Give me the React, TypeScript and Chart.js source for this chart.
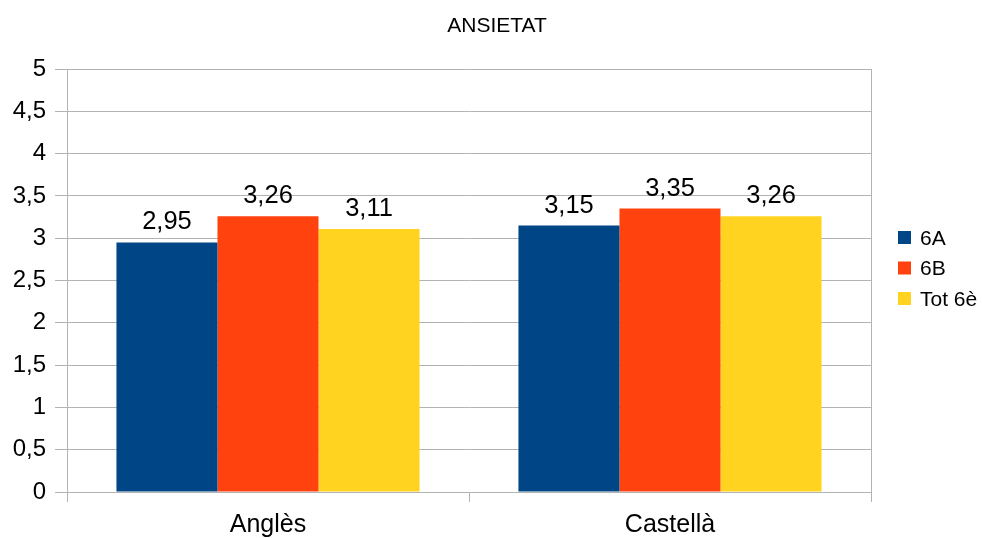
import React, { useEffect, useRef } from "react";
import { Chart, registerables } from "chart.js";

Chart.register(...registerables);

const title = "ANSIETAT";
const categories = ["Anglès", "Castellà"];
const seriesNames = ["6A", "6B", "Tot 6è"];
const values6A = [2.95, 3.15];
const values6B = [3.26, 3.35];
const valuesTot = [3.11, 3.26];
const seriesColors = ["#004586", "#ff420e", "#ffd320"];
const yTicks = [0, 0.5, 1, 1.5, 2, 2.5, 3, 3.5, 4, 4.5, 5];

const FONT = "'Liberation Sans', Arial, sans-serif";
const GRID = "#b3b3b3";

const fmt = (v: number) => String(v).replace(".", ",");

// Title, value labels, right frame line and the legend are drawn here.
const decorations = {
  id: "decorations",
  afterDatasetsDraw(chart: any) {
    const ctx = chart.ctx as CanvasRenderingContext2D;
    const area = chart.chartArea;
    ctx.save();

    // right frame line
    ctx.strokeStyle = GRID;
    ctx.lineWidth = 1;
    ctx.beginPath();
    ctx.moveTo(Math.round(area.right) + 0.5, area.top);
    ctx.lineTo(Math.round(area.right) + 0.5, area.bottom);
    ctx.stroke();

    // value labels
    ctx.fillStyle = "#000";
    ctx.font = `25.5px ${FONT}`;
    ctx.textAlign = "center";
    ctx.textBaseline = "alphabetic";
    chart.data.datasets.forEach((ds: any, i: number) => {
      const meta = chart.getDatasetMeta(i);
      meta.data.forEach((bar: any, j: number) => {
        ctx.fillText(fmt(ds.data[j]), bar.x, bar.y - 13);
      });
    });

    // title
    ctx.font = `21px ${FONT}`;
    ctx.fillText(title, 497, 32);

    // legend
    ctx.textAlign = "left";
    ctx.textBaseline = "middle";
    ctx.font = `21px ${FONT}`;
    chart.data.datasets.forEach((ds: any, i: number) => {
      const cy = 238 + i * 30.5;
      ctx.fillStyle = ds.backgroundColor;
      ctx.fillRect(898, cy - 7, 13, 13);
      ctx.fillStyle = "#000";
      ctx.fillText(ds.label, 920, cy + 1);
    });

    ctx.restore();
  },
};

export default function App() {
  const canvasRef = useRef<HTMLCanvasElement | null>(null);

  useEffect(() => {
    if (!canvasRef.current) return;
    const seriesValues = [values6A, values6B, valuesTot];
    const chart = new Chart(canvasRef.current, {
      type: "bar",
      data: {
        labels: categories,
        datasets: seriesNames.map((name, i) => ({
          label: name,
          data: seriesValues[i],
          backgroundColor: seriesColors[i],
          borderWidth: 0,
          barPercentage: 1,
          categoryPercentage: 0.754,
        })),
      },
      options: {
        animation: false,
        responsive: false,
        maintainAspectRatio: false,
        layout: { padding: { top: 69, right: 111, left: 0, bottom: 0 } },
        plugins: {
          legend: { display: false },
          title: { display: false },
          tooltip: { enabled: false },
        },
        scales: {
          x: {
            offset: true,
            grid: {
              offset: true,
              drawOnChartArea: false,
              drawTicks: true,
              tickLength: 10,
              color: GRID,
            },
            border: { color: GRID },
            ticks: {
              color: "#000",
              font: { family: FONT, size: 25 },
              padding: 8,
            },
            afterFit: (scale: any) => {
              scale.height = 46;
            },
          },
          y: {
            min: 0,
            max: 5,
            afterBuildTicks: (scale: any) => {
              scale.ticks = yTicks.map((v) => ({ value: v }));
            },
            grid: { color: GRID, tickLength: 12 },
            border: { color: GRID },
            ticks: {
              color: "#000",
              font: { family: FONT, size: 24 },
              padding: 9,
              callback: (v: any) => fmt(Number(v)),
            },
            afterFit: (scale: any) => {
              scale.width = 67;
            },
          },
        },
      },
      plugins: [decorations],
    });
    return () => chart.destroy();
  }, []);

  return (
    <div style={{ position: "fixed", left: 0, top: 0, width: 982, height: 538, background: "#fff" }}>
      <canvas ref={canvasRef} width={982} height={538} style={{ width: 982, height: 538 }} />
    </div>
  );
}
